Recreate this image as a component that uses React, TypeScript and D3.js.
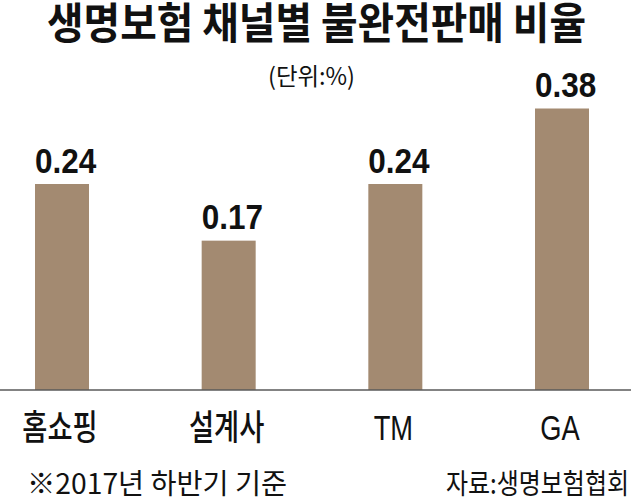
import React from "react";
import * as d3 from "d3";

const categories = ["홈쇼핑", "설계사", "TM", "GA"];
const values = [0.24, 0.17, 0.24, 0.38];
const valueLabels = ["0.24", "0.17", "0.24", "0.38"];
const title = "생명보험 채널별 불완전판매 비율";
const unitLabel = "(단위:%)";
const noteText = "※2017년 하반기 기준";
const sourceText = "자료:생명보험협회";

const W = 631;
const H = 498;
const BASE = 390;
const FONT = "'Liberation Sans', Arial, 'Noto Sans CJK KR', sans-serif";
const KFONT = "'Noto Sans CJK KR', 'Liberation Sans', sans-serif";

export default function App() {
  const x = d3
    .scaleBand<string>()
    .domain(categories)
    .range([0, 624])
    .paddingInner(0.676)
    .paddingOuter(0.21);
  // the infographic's bars are not drawn on a linear zero-based scale
  const y = d3.scaleLog().domain([0.0685, 0.38]).range([BASE, 108.5]);

  return (
    <svg
      width={W}
      height={H}
      style={{ position: "absolute", left: 0, top: 0, background: "#fff" }}
    >
      <text
        x={47}
        y={39}
        fontFamily={KFONT}
        fontWeight={700}
        fontSize={43}
        textLength={539}
        lengthAdjust="spacingAndGlyphs"
        fill="#111"
      >
        {title}
      </text>
      <text
        x={268}
        y={85}
        fontFamily={KFONT}
        fontWeight={400}
        fontSize={24}
        textLength={87}
        lengthAdjust="spacingAndGlyphs"
        fill="#111"
      >
        {unitLabel}
      </text>
      {categories.map((c, i) => {
        const bx = x(c) as number;
        const top = y(values[i]);
        return (
          <g key={c}>
            <rect
              x={bx}
              y={top}
              width={x.bandwidth()}
              height={BASE - top}
              fill="#a38a71"
            />
            <text
              transform={`translate(${bx},${top - 11.5}) scale(0.9,1)`}
              fontFamily={FONT}
              fontWeight={700}
              fontSize={35}
              fill="#111"
            >
              {valueLabels[i]}
            </text>
            <text
              transform={`translate(${bx + x.bandwidth() / 2 - 2},440) scale(0.78,1)`}
              textAnchor="middle"
              fontFamily={FONT}
              fontWeight={500}
              fontSize={35}
              fill="#111"
            >
              {c}
            </text>
          </g>
        );
      })}
      <line x1={0} x2={W} y1={BASE} y2={BASE} stroke="#5a5a5a" strokeWidth={1.5} />
      <text
        x={27}
        y={494}
        fontFamily={KFONT}
        fontWeight={400}
        fontSize={28}
        textLength={260}
        lengthAdjust="spacingAndGlyphs"
        fill="#111"
      >
        {noteText}
      </text>
      <text
        x={446}
        y={494}
        fontFamily={KFONT}
        fontWeight={400}
        fontSize={28}
        textLength={183}
        lengthAdjust="spacingAndGlyphs"
        fill="#111"
      >
        {sourceText}
      </text>
    </svg>
  );
}
